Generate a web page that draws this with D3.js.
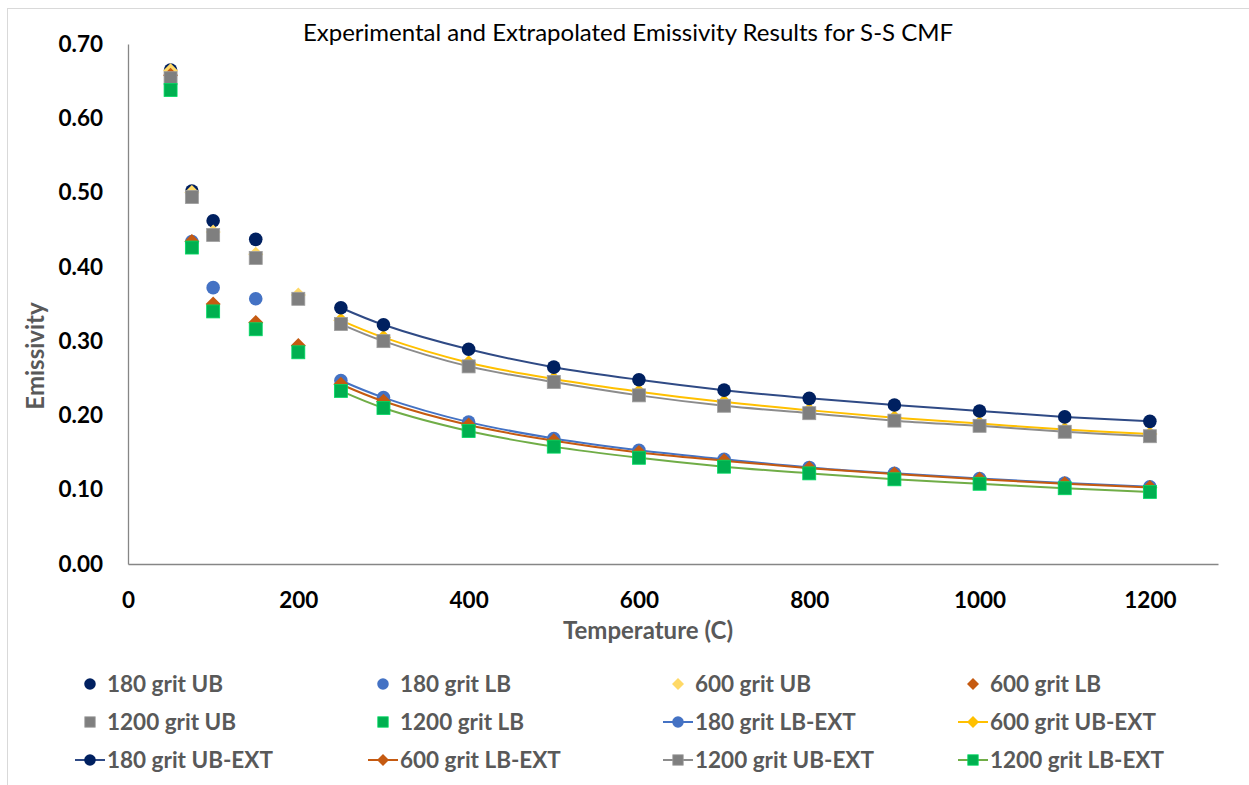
<!DOCTYPE html>
<html>
<head>
<meta charset="utf-8">
<script src="https://cdn.jsdelivr.net/npm/d3@7"></script>
<style>
  html, body { margin: 0; padding: 0; background: #fff; }
  svg { display: block; }
</style>
</head>
<body>
<svg id="chart" width="1249" height="785"></svg>
<script>
// ---------------- DATA ----------------
const tempsExp = [50, 75, 100, 150, 200];
const tempsExt = [250, 300, 400, 500, 600, 700, 800, 900, 1000, 1100, 1200];

const g180UB = [0.665, 0.502, 0.462, 0.437, null];
const g180LB = [null, 0.434, 0.372, 0.357, null];
const g600UB = [0.664, 0.500, 0.447, 0.417, 0.362];
const g600LB = [0.658, 0.434, 0.350, 0.325, 0.294];
const g1200UB = [0.654, 0.494, 0.443, 0.412, 0.357];
const g1200LB = [0.638, 0.426, 0.340, 0.316, 0.285];

const g180LBExt = [0.247, 0.224, 0.191, 0.169, 0.153, 0.141, 0.130, 0.122, 0.115, 0.109, 0.104];
const g600UBExt = [0.328, 0.305, 0.271, 0.249, 0.232, 0.218, 0.207, 0.197, 0.189, 0.181, 0.175];
const g180UBExt = [0.345, 0.322, 0.289, 0.265, 0.248, 0.234, 0.223, 0.214, 0.206, 0.198, 0.192];
const g600LBExt = [0.242, 0.219, 0.187, 0.166, 0.150, 0.139, 0.129, 0.121, 0.114, 0.108, 0.103];
const g1200UBExt = [0.323, 0.300, 0.266, 0.245, 0.227, 0.213, 0.203, 0.193, 0.186, 0.178, 0.172];
const g1200LBExt = [0.233, 0.210, 0.179, 0.158, 0.143, 0.131, 0.122, 0.114, 0.108, 0.102, 0.097];

const xTicks = [0, 200, 400, 600, 800, 1000, 1200];
const yTicks = [0, 0.1, 0.2, 0.3, 0.4, 0.5, 0.6, 0.7];

const titleText = "Experimental and Extrapolated Emissivity Results for S-S CMF";
const xTitle = "Temperature (C)";
const yTitle = "Emissivity";

// series definitions (legend order)
const series = [
  { name: "180 grit UB", xs: tempsExp, ys: g180UB, shape: "circle", fill: "#002060", line: null },
  { name: "180 grit LB", xs: tempsExp, ys: g180LB, shape: "circle", fill: "#4472C4", line: null },
  { name: "600 grit UB", xs: tempsExp, ys: g600UB, shape: "diamond", fill: "#FFD966", line: null },
  { name: "600 grit LB", xs: tempsExp, ys: g600LB, shape: "diamond", fill: "#C55A11", line: null },
  { name: "1200 grit UB", xs: tempsExp, ys: g1200UB, shape: "square", fill: "#7F7F7F", line: null },
  { name: "1200 grit LB", xs: tempsExp, ys: g1200LB, shape: "square", fill: "#00B050", line: null },
  { name: "180 grit LB-EXT", xs: tempsExt, ys: g180LBExt, shape: "circle", fill: "#4472C4", line: "#4472C4" },
  { name: "600 grit UB-EXT", xs: tempsExt, ys: g600UBExt, shape: "diamond", fill: "#FFC000", line: "#FFC000" },
  { name: "180 grit UB-EXT", xs: tempsExt, ys: g180UBExt, shape: "circle", fill: "#002060", line: "#2F4A85" },
  { name: "600 grit LB-EXT", xs: tempsExt, ys: g600LBExt, shape: "diamond", fill: "#C55A11", line: "#C55A11" },
  { name: "1200 grit UB-EXT", xs: tempsExt, ys: g1200UBExt, shape: "square", fill: "#7F7F7F", line: "#8C8C8C" },
  { name: "1200 grit LB-EXT", xs: tempsExt, ys: g1200LBExt, shape: "square", fill: "#00B050", line: "#70AD47" }
];

// ---------------- LAYOUT ----------------
const svg = d3.select("#chart");
const plot = { left: 128, right: 1218, top: 44, bottom: 564 };
const x = d3.scaleLinear().domain([0, 1280]).range([plot.left, plot.right]);
const y = d3.scaleLinear().domain([0, 0.7]).range([plot.bottom, plot.top]);

const FONT = "Lato, 'Open Sans', sans-serif";

// chart frame
svg.append("rect").attr("x", 7.5).attr("y", 8.5).attr("width", 1260).attr("height", 800)
  .attr("fill", "none").attr("stroke", "#d9d9d9").attr("stroke-width", 1);

// title
svg.append("text").attr("x", 628).attr("y", 41).attr("text-anchor", "middle")
  .attr("font-family", FONT).attr("font-size", 24).attr("fill", "#000")
  .text(titleText);

// axes
const xAxis = d3.axisBottom(x).tickValues(xTicks).tickSize(0).tickPadding(0).tickFormat(d3.format("d"));
const gx = svg.append("g").attr("transform", `translate(0,${plot.bottom})`).call(xAxis);
gx.select(".domain").attr("stroke", "#868686").attr("stroke-width", 1.3);
gx.selectAll("text").attr("font-family", FONT).attr("font-size", 22.5).attr("font-weight", "bold")
  .attr("fill", "#000").attr("y", 28).attr("dy", "0.71em");

const yAxis = d3.axisLeft(y).tickValues(yTicks).tickSize(0).tickPadding(25).tickFormat(d3.format(".2f"));
const gy = svg.append("g").attr("transform", `translate(${plot.left},0)`).call(yAxis);
gy.select(".domain").attr("stroke", "#868686").attr("stroke-width", 1.3);
gy.selectAll("text").attr("font-family", FONT).attr("font-size", 22.5).attr("font-weight", "bold")
  .attr("fill", "#000");

// axis titles
svg.append("text").attr("x", 648).attr("y", 639).attr("text-anchor", "middle")
  .attr("font-family", FONT).attr("font-size", 24).attr("font-weight", "bold").attr("fill", "#595959")
  .text(xTitle);
svg.append("text").attr("transform", "translate(44,356) rotate(-90)").attr("text-anchor", "middle")
  .attr("font-family", FONT).attr("font-size", 24).attr("font-weight", "bold").attr("fill", "#595959")
  .text(yTitle);

// markers
function drawMarker(sel, shape, cx, cy, fill, scale) {
  const s = scale || 1;
  if (shape === "circle") {
    sel.append("circle").attr("cx", cx).attr("cy", cy).attr("r", 6.8 * s).attr("fill", fill);
  } else if (shape === "square") {
    const h = 6.5 * s;
    sel.append("rect").attr("x", cx - h).attr("y", cy - h).attr("width", 2 * h).attr("height", 2 * h)
      .attr("fill", fill).attr("stroke", d3.color(fill).brighter(0.6)).attr("stroke-width", 0.8);
  } else {
    const h = 7.5 * s;
    sel.append("path").attr("d", `M${cx},${cy - h}L${cx + h},${cy}L${cx},${cy + h}L${cx - h},${cy}Z`)
      .attr("fill", fill);
  }
}

const line = d3.line().curve(d3.curveCatmullRom.alpha(0.5))
  .x(d => x(d[0])).y(d => y(d[1]));

const gSeries = svg.append("g");
series.forEach(s => {
  const g = gSeries.append("g");
  const pts = s.xs.map((t, i) => [t, s.ys[i]]).filter(d => d[1] != null);
  if (s.line) {
    g.append("path").datum(pts).attr("d", line).attr("fill", "none")
      .attr("stroke", s.line).attr("stroke-width", 2);
  }
  pts.forEach(d => drawMarker(g, s.shape, x(d[0]), y(d[1]), s.fill, 1));
});

// legend
const legCols = [90, 383, 678, 973];
const legRows = [684, 722, 760];
const gLeg = svg.append("g");
series.forEach((s, i) => {
  const cx = legCols[i % 4], cy = legRows[Math.floor(i / 4)];
  if (s.line) {
    gLeg.append("line").attr("x1", cx - 15).attr("x2", cx + 15).attr("y1", cy).attr("y2", cy)
      .attr("stroke", s.line).attr("stroke-width", 2);
  }
  drawMarker(gLeg, s.shape, cx, cy, s.fill, s.shape === "circle" ? 0.85 : 0.8);
  gLeg.append("text").attr("x", cx + 17).attr("y", cy).attr("dy", "0.35em")
    .attr("font-family", FONT).attr("font-size", 22.5).attr("font-weight", "bold").attr("fill", "#595959")
    .text(s.name);
});
</script>
</body>
</html>
